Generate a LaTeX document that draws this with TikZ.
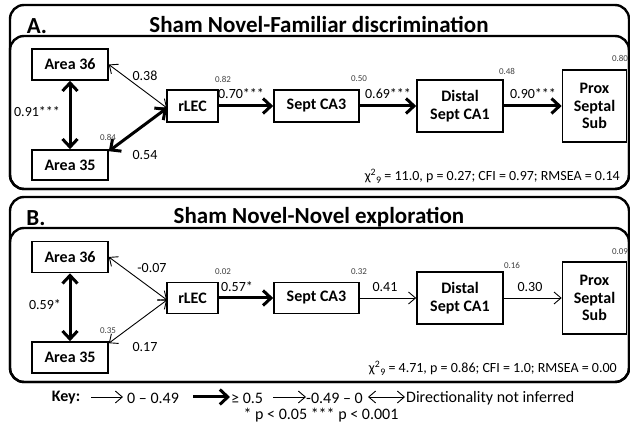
\documentclass[tikz,border=0pt]{standalone}
\usepackage{fontspec}
\setmainfont{Carlito}
\usetikzlibrary{arrows.meta}
\tikzset{
  panel/.style={line width=2.4pt, rounded corners=14pt},
  box/.style={draw, line width=1.6pt, fill=white, align=center, inner sep=0pt,
    font=\bfseries\fontsize{16}{17.5}\selectfont},
  title/.style={font=\bfseries\fontsize{23}{25}\selectfont, inner sep=0pt},
  coef/.style={font=\fontsize{14}{15}\selectfont, inner sep=0pt},
  rsq/.style={font=\fontsize{9}{10}\selectfont, text=black!75, inner sep=0pt},
  fit/.style={font=\fontsize{14}{15}\selectfont, inner sep=0pt, anchor=east},
  keytext/.style={font=\fontsize{16}{17}\selectfont, inner sep=0pt},
  thinhead/.tip={Straight Barb[length=7pt,width=12pt,line width=0.9pt]},
  thickhead/.tip={Straight Barb[length=8pt,width=15pt,line width=3pt]},
  thin/.style={line width=0.9pt, -thinhead},
  thick/.style={line width=3pt, -thickhead},
  thinboth/.style={line width=0.9pt, thinhead-thinhead},
  thickboth/.style={line width=3pt, thickhead-thickhead},
}
\newcommand{\chisq}{χ\textsuperscript{2}\raisebox{-0.4ex}{\fontsize{10}{10}\selectfont 9}}
\begin{document}
\begin{tikzpicture}[x=1pt,y=-1pt]
\useasboundingbox (0,0) rectangle (630,427);
% ---------- Panel A ----------
\draw[panel] (10,5) rectangle (629,189);
\draw[panel] (10,36) rectangle (629,189);
\node[title] (tA) at (37,26) {A.};
\node[title] (ttA) at (319,25) {Sham Novel-Familiar discrimination};
\node[box, minimum width=76pt, minimum height=31pt] (a36A) at (70,64.5) {Area 36};
\node[box, minimum width=76pt, minimum height=30pt] (a35A) at (70,165) {Area 35};
\node[box, minimum width=51pt, minimum height=32pt] (rlecA) at (192.5,106) {rLEC};
\node[box, minimum width=85pt, minimum height=32pt] (ca3A) at (316.5,106) {Sept CA3};
\node[box, minimum width=86pt, minimum height=52pt] (ca1A) at (460,106) {Distal\\Sept CA1};
\node[box, minimum width=64pt, minimum height=72pt] (subA) at (594.5,106) {Prox\\Septal\\Sub};
\coordinate (inA) at (167,108);
\draw[thickboth] (a36A.south) -- (a35A.north);
\draw[thinboth] (a36A.east) -- (inA);
\draw[thickboth] ([yshift=-2pt]a35A.north east) -- (inA);
\draw[thick] (rlecA) -- (ca3A);
\draw[thick] (ca3A) -- (ca1A);
\draw[thick] (ca1A) -- (subA);
\node[coef] (c1A) at (145,76) {0.38};
\node[coef] (c2A) at (145,155) {0.54};
\node[coef] (c3A) at (37,112) {0.91***};
\node[coef] (c4A) at (241,94) {0.70***};
\node[coef] (c5A) at (388,94) {0.69***};
\node[coef] (c6A) at (533,94) {0.90***};
\node[rsq] (r1A) at (223,79) {0.82};
\node[rsq] (r2A) at (108,137) {0.84};
\node[rsq] (r3A) at (359,79) {0.50};
\node[rsq] (r4A) at (507,71) {0.48};
\node[rsq] (r5A) at (620,58) {0.80};
\node[fit] (fA) at (620,176) {\chisq{} = 11.0, p = 0.27; CFI = 0.97; RMSEA = 0.14};
% ---------- Panel B ----------
\draw[panel] (10,197) rectangle (629,382);
\draw[panel] (10,228) rectangle (629,382);
\node[title] (tB) at (36,218) {B.};
\node[title] (ttB) at (319,217) {Sham Novel-Novel exploration};
\node[box, minimum width=76pt, minimum height=31pt] (a36B) at (70,257) {Area 36};
\node[box, minimum width=76pt, minimum height=31pt] (a35B) at (70,357.5) {Area 35};
\node[box, minimum width=51pt, minimum height=31pt] (rlecB) at (192.5,298) {rLEC};
\node[box, minimum width=85pt, minimum height=31pt] (ca3B) at (316.5,298) {Sept CA3};
\node[box, minimum width=86pt, minimum height=52pt] (ca1B) at (460,298) {Distal\\Sept CA1};
\node[box, minimum width=64pt, minimum height=72pt] (subB) at (594.5,298) {Prox\\Septal\\Sub};
\coordinate (inB) at (167,300);
\draw[thickboth] (a36B.south) -- (a35B.north);
\draw[thinboth] (a36B.east) -- (inB);
\draw[thinboth] ([yshift=-2pt]a35B.north east) -- (inB);
\draw[thick] (rlecB) -- (ca3B);
\draw[thin] (ca3B) -- (ca1B);
\draw[thin] (ca1B) -- (subB);
\node[coef] (c1B) at (152,268) {-0.07};
\node[coef] (c2B) at (145,347) {0.17};
\node[coef] (c3B) at (45,305) {0.59*};
\node[coef] (c4B) at (237,287) {0.57*};
\node[coef] (c5B) at (385,287) {0.41};
\node[coef] (c6B) at (530,287) {0.30};
\node[rsq] (r1B) at (223,272) {0.02};
\node[rsq] (r2B) at (108,331) {0.35};
\node[rsq] (r3B) at (359,272) {0.32};
\node[rsq] (r4B) at (512,265) {0.16};
\node[rsq] (r5B) at (620,252) {0.09};
\node[fit] (fB) at (617,368) {\chisq{} = 4.71, p = 0.86; CFI = 1.0; RMSEA = 0.00};
% ---------- Key ----------
\node[keytext, font=\bfseries\fontsize{16}{17}\selectfont] (key) at (66,398) {Key:};
\coordinate (k1s) at (91,397); \coordinate (k1e) at (123,397);
\draw[thin] (k1s) -- (k1e);
\node[keytext, anchor=west] (k1t) at (127,398) {0 – 0.49};
\coordinate (k2s) at (193,397); \coordinate (k2e) at (230,397);
\draw[thick] (k2s) -- (k2e);
\node[keytext, anchor=west] (k2t) at (231,398) {≥ 0.5};
\coordinate (k3s) at (273,397); \coordinate (k3e) at (306,397);
\draw[thin] (k3s) -- (k3e);
\node[keytext, anchor=west] (k3t) at (306,398) {-0.49 – 0};
\coordinate (k4s) at (368,397); \coordinate (k4e) at (405,397);
\draw[thinboth] (k4s) -- (k4e);
\node[keytext, anchor=west] (k4t) at (406,398) {Directionality not inferred};
\node[keytext] (pkey) at (321,415) {* p < 0.05 *** p < 0.001};
\end{tikzpicture}
\end{document}
